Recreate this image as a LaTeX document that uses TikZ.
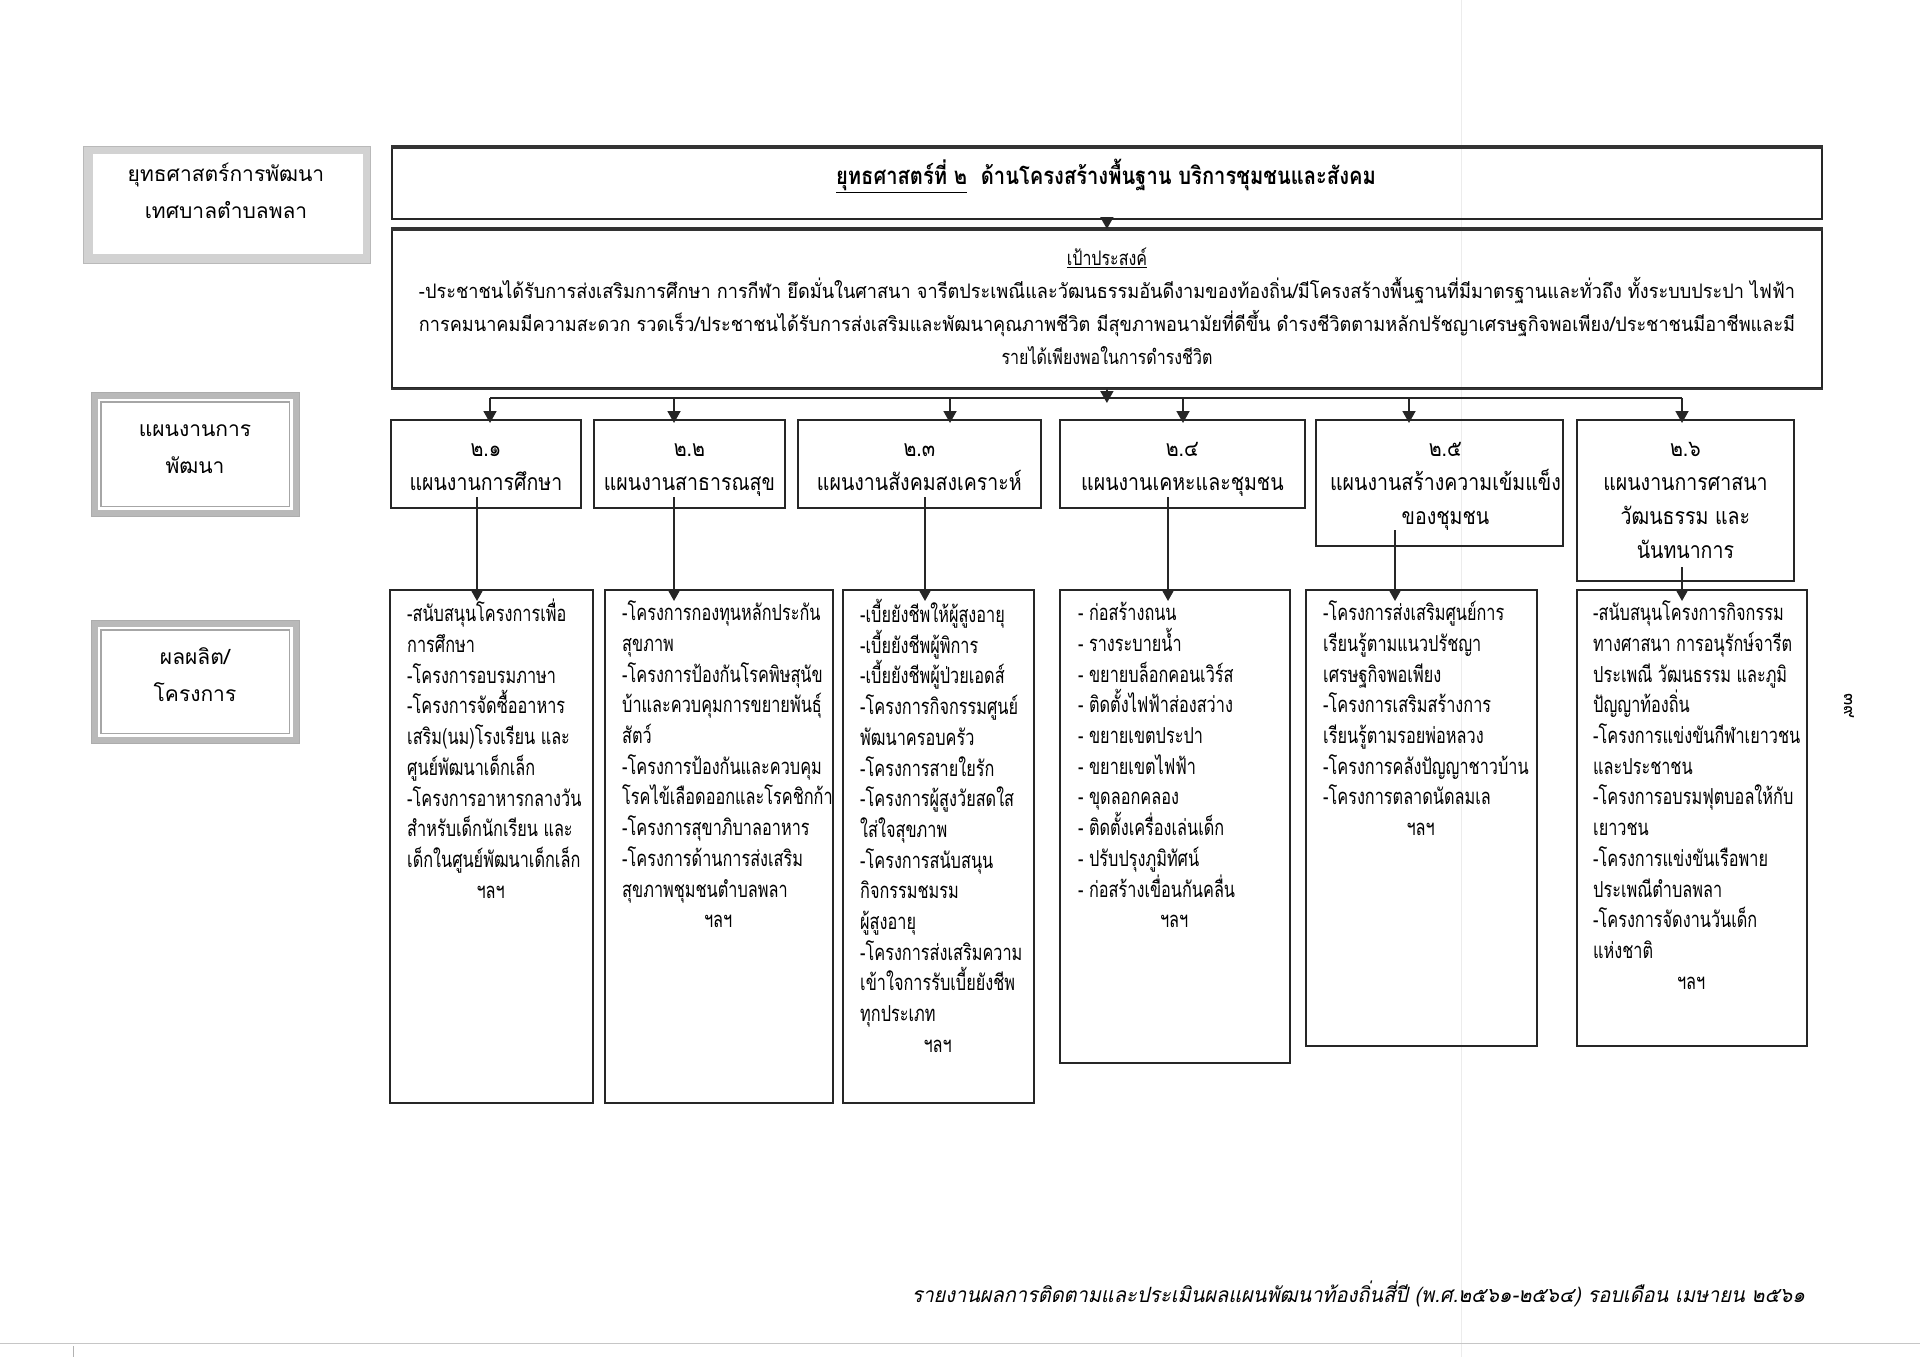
\documentclass[tikz,border=0pt]{standalone}
\usepackage{fontspec}
\usepackage{graphicx}
\usetikzlibrary{arrows.meta,calc}
\newfontfamily\thlab[Script=Thai]{Loma}
\newfontfamily\thplan[Script=Thai,FakeStretch=0.85]{Loma}
\newfontfamily\thbody[Script=Thai,FakeStretch=0.74]{Loma}
\newfontfamily\thobj[Script=Thai,FakeStretch=0.8]{Loma}
\newfontfamily\thtitle[Script=Thai,FakeStretch=0.84]{Loma}
\newfontfamily\thfoot[Script=Thai,FakeStretch=0.85,FakeSlant=0.2]{Loma}
\newcommand\nolsk{\lineskiplimit=-1000pt\relax}
\begin{document}
\begin{tikzpicture}[x=1pt,y=-1pt,
  bx/.style={draw=black!85,line width=1.8pt,inner sep=0pt,anchor=north west},
  arr/.style={draw=black!85,line width=1.8pt,-{Triangle[length=12pt,width=13pt]}},
  ln/.style={draw=black!85,line width=1.8pt},
  thick top/.style={draw=black!80,line width=3.5pt},
  body/.style={inner sep=0pt,anchor=north west,align=left,font=\thbody\fontsize{22}{30.7}\selectfont\nolsk},
  plantxt/.style={inner sep=0pt,anchor=north,align=center,font=\thplan\fontsize{23}{34}\selectfont\nolsk},
  labtxt/.style={inner sep=0pt,align=center,font=\thlab\fontsize{21}{37}\selectfont\nolsk},
  labA/.style={anchor=north west,inner sep=0pt,fill=gray!35,draw=gray!55,line width=0.8pt},
  labB/.style={anchor=north west,inner sep=0pt,fill=gray!55,draw=gray!65,line width=0.8pt},
]
\fill[white] (0,0) rectangle (1920,1357);
\useasboundingbox (0,0) rectangle (1920,1357);

% scan artefacts
\draw[gray!15,line width=0.8pt] (1461,0) -- (1461,1357);
\draw[gray!45,line width=1pt] (0,1343) -- (1920,1343);
\draw[gray!60,line width=1pt] (73,1346) -- (73,1357);

% left labels
\node[labA,minimum width=287,minimum height=117] (L1) at (83,146) {};
\fill[white] ([shift={(10pt,-8pt)}]L1.north west) rectangle ([shift={(-8pt,10pt)}]L1.south east);
\node[labtxt] (L1t) at (226,193) {\strut ยุทธศาสตร์การพัฒนา\\\strut เทศบาลตำบลพลา};

\node[labB,minimum width=208,minimum height=124] (L2) at (91,392) {};
\fill[white] ([shift={(7pt,-7pt)}]L2.north west) rectangle ([shift={(-7pt,7pt)}]L2.south east);
\draw[gray!70,line width=1.2pt] ([shift={(10pt,-10pt)}]L2.north west) rectangle ([shift={(-10pt,10pt)}]L2.south east);
\node[labtxt] (L2t) at (195,448) {\strut แผนงานการ\\\strut พัฒนา};

\node[labB,minimum width=208,minimum height=123] (L3) at (91,620) {};
\fill[white] ([shift={(7pt,-7pt)}]L3.north west) rectangle ([shift={(-7pt,7pt)}]L3.south east);
\draw[gray!70,line width=1.2pt] ([shift={(10pt,-10pt)}]L3.north west) rectangle ([shift={(-10pt,10pt)}]L3.south east);
\node[labtxt] (L3t) at (195,676) {\strut ผลผลิต/\\\strut โครงการ};

% strategy box
\node[bx,minimum width=1430,minimum height=71] (T) at (391,147) {};
\draw[thick top] (T.north west) -- (T.north east);
\node[inner sep=0pt,font=\thtitle\fontsize{24}{28}\selectfont\bfseries] (Tt) at (1106,176)
  {\underline{ยุทธศาสตร์ที่ ๒}\ \ ด้านโครงสร้างพื้นฐาน บริการชุมชนและสังคม};

% objective box
\node[bx,minimum width=1430,minimum height=158] (O) at (391,229) {};
\draw[thick top] (O.north west) -- (O.north east);
\draw[draw=black!80,line width=2.6pt] (O.south west) -- (O.south east);
\node[inner sep=0pt,anchor=north,align=center,font=\thobj\fontsize{20}{33}\selectfont\nolsk] (Ot) at (1107,242)
  {\strut\underline{เป้าประสงค์}\\
   \resizebox{1376pt}{\height}{-ประชาชนได้รับการส่งเสริมการศึกษา การกีฬา ยึดมั่นในศาสนา จารีตประเพณีและวัฒนธรรมอันดีงามของท้องถิ่น/มีโครงสร้างพื้นฐานที่มีมาตรฐานและทั่วถึง ทั้งระบบประปา ไฟฟ้า}\\
   \resizebox{1376pt}{\height}{การคมนาคมมีความสะดวก รวดเร็ว/ประชาชนได้รับการส่งเสริมและพัฒนาคุณภาพชีวิต มีสุขภาพอนามัยที่ดีขึ้น ดำรงชีวิตตามหลักปรัชญาเศรษฐกิจพอเพียง/ประชาชนมีอาชีพและมี}\\
   รายได้เพียงพอในการดำรงชีวิต};

\draw[arr] (T.south) -- (O.north);

% plan boxes
\node[bx,minimum width=190,minimum height=88] (p21) at (390,419) {};
\node[bx,minimum width=191,minimum height=88] (p22) at (593,419) {};
\node[bx,minimum width=243,minimum height=88] (p23) at (797,419) {};
\node[bx,minimum width=245,minimum height=88] (p24) at (1059,419) {};
\node[bx,minimum width=247,minimum height=126] (p25) at (1315,419) {};
\node[bx,minimum width=217,minimum height=161] (p26) at (1576,419) {};

\node[plantxt] (p21t) at (p21.north |- 0,432) {\strut ๒.๑\\ แผนงานการศึกษา};
\node[plantxt] (p22t) at (p22.north |- 0,432) {\strut ๒.๒\\ แผนงานสาธารณสุข};
\node[plantxt] (p23t) at (p23.north |- 0,432) {\strut ๒.๓\\ แผนงานสังคมสงเคราะห์};
\node[plantxt] (p24t) at (p24.north |- 0,432) {\strut ๒.๔\\ แผนงานเคหะและชุมชน};
\node[plantxt] (p25t) at ([xshift=6pt]p25.north |- 0,432) {\strut ๒.๕\\ แผนงานสร้างความเข้มแข็ง\\ ของชุมชน};
\node[plantxt] (p26t) at (p26.north |- 0,432) {\strut ๒.๖\\ แผนงานการศาสนา\\ วัฒนธรรม และ\\ นันทนาการ};

% bus
\coordinate (b1) at (490,398);
\coordinate (b2) at (674,398);
\coordinate (b3) at (950,398);
\coordinate (b4) at (1183,398);
\coordinate (b5) at (1409,398);
\coordinate (b6) at (1682,398);
\draw[arr] (O.south) -- ([yshift=-5pt]O.south |- b1);
\draw[ln] (b1) -- (b6);
\foreach \i in {1,...,6}{\draw[arr] (b\i) -- ([yshift=-4pt]b\i |- p2\i.north);}

% project boxes
\node[bx,minimum width=203,minimum height=513] (r1) at (389,589) {};
\node[bx,minimum width=228,minimum height=513] (r2) at (604,589) {};
\node[bx,minimum width=191,minimum height=513] (r3) at (842,589) {};
\node[bx,minimum width=230,minimum height=473] (r4) at (1059,589) {};
\node[bx,minimum width=231,minimum height=456] (r5) at (1305,589) {};
\node[bx,minimum width=230,minimum height=456] (r6) at (1576,589) {};

% plan -> project connectors
\coordinate (d1) at (477,497);
\coordinate (d2) at (674,497);
\coordinate (d3) at (925,497);
\coordinate (d4) at (1168,497);
\coordinate (d5) at (1395,530);
\coordinate (d6) at (1682,567);
\foreach \i in {1,...,6}{\draw[arr] (d\i) -- ([yshift=-12pt]d\i |- r\i.north);}

% project texts
\node[body] (r1t) at (407,599) {\strut -สนับสนุนโครงการเพื่อ\\
การศึกษา\\
-โครงการอบรมภาษา\\
-โครงการจัดซื้ออาหาร\\
เสริม(นม)โรงเรียน และ\\
ศูนย์พัฒนาเด็กเล็ก\\
-โครงการอาหารกลางวัน\\
สำหรับเด็กนักเรียน และ\\
เด็กในศูนย์พัฒนาเด็กเล็ก\\
\makebox[167pt]{ฯลฯ}};

\node[body] (r2t) at (622,599) {\strut -โครงการกองทุนหลักประกัน\\
สุขภาพ\\
-โครงการป้องกันโรคพิษสุนัข\\
บ้าและควบคุมการขยายพันธุ์\\
สัตว์\\
-โครงการป้องกันและควบคุม\\
โรคไข้เลือดออกและโรคชิกก้า\\
-โครงการสุขาภิบาลอาหาร\\
-โครงการด้านการส่งเสริม\\
สุขภาพชุมชนตำบลพลา\\
\makebox[192pt]{ฯลฯ}};

\node[body] (r3t) at (860,599) {\strut -เบี้ยยังชีพให้ผู้สูงอายุ\\
-เบี้ยยังชีพผู้พิการ\\
-เบี้ยยังชีพผู้ป่วยเอดส์\\
-โครงการกิจกรรมศูนย์\\
พัฒนาครอบครัว\\
-โครงการสายใยรัก\\
-โครงการผู้สูงวัยสดใส\\
ใส่ใจสุขภาพ\\
-โครงการสนับสนุน\\
กิจกรรมชมรม\\
ผู้สูงอายุ\\
-โครงการส่งเสริมความ\\
เข้าใจการรับเบี้ยยังชีพ\\
ทุกประเภท\\
\makebox[155pt]{ฯลฯ}};

\node[body] (r4t) at (1078,599) {\strut - ก่อสร้างถนน\\
- รางระบายน้ำ\\
- ขยายบล็อกคอนเวิร์ส\\
- ติดตั้งไฟฟ้าส่องสว่าง\\
- ขยายเขตประปา\\
- ขยายเขตไฟฟ้า\\
- ขุดลอกคลอง\\
- ติดตั้งเครื่องเล่นเด็ก\\
- ปรับปรุงภูมิทัศน์\\
- ก่อสร้างเขื่อนกันคลื่น\\
\makebox[192pt]{ฯลฯ}};

\node[body] (r5t) at (1323,599) {\strut -โครงการส่งเสริมศูนย์การ\\
เรียนรู้ตามแนวปรัชญา\\
เศรษฐกิจพอเพียง\\
-โครงการเสริมสร้างการ\\
เรียนรู้ตามรอยพ่อหลวง\\
-โครงการคลังปัญญาชาวบ้าน\\
-โครงการตลาดนัดลมเล\\
\makebox[195pt]{ฯลฯ}};

\node[body] (r6t) at (1593,599) {\strut -สนับสนุนโครงการกิจกรรม\\
ทางศาสนา การอนุรักษ์จารีต\\
ประเพณี วัฒนธรรม และภูมิ\\
ปัญญาท้องถิ่น\\
-โครงการแข่งขันกีฬาเยาวชน\\
และประชาชน\\
-โครงการอบรมฟุตบอลให้กับ\\
เยาวชน\\
-โครงการแข่งขันเรือพาย\\
ประเพณีตำบลพลา\\
-โครงการจัดงานวันเด็ก\\
แห่งชาติ\\
\makebox[196pt]{ฯลฯ}};

% page number and footer
\node[inner sep=0pt,rotate=-90,font=\thlab\fontsize{18}{20}\selectfont] (pg) at (1849,706) {๓๙};
\node[inner sep=0pt,anchor=east,font=\thfoot\fontsize{21}{25}\selectfont] (foot) at (1805,1294)
  {\resizebox{893pt}{\height}{รายงานผลการติดตามและประเมินผลแผนพัฒนาท้องถิ่นสี่ปี (พ.ศ.๒๕๖๑-๒๕๖๔) รอบเดือน เมษายน ๒๕๖๑}};
\end{tikzpicture}
\end{document}
